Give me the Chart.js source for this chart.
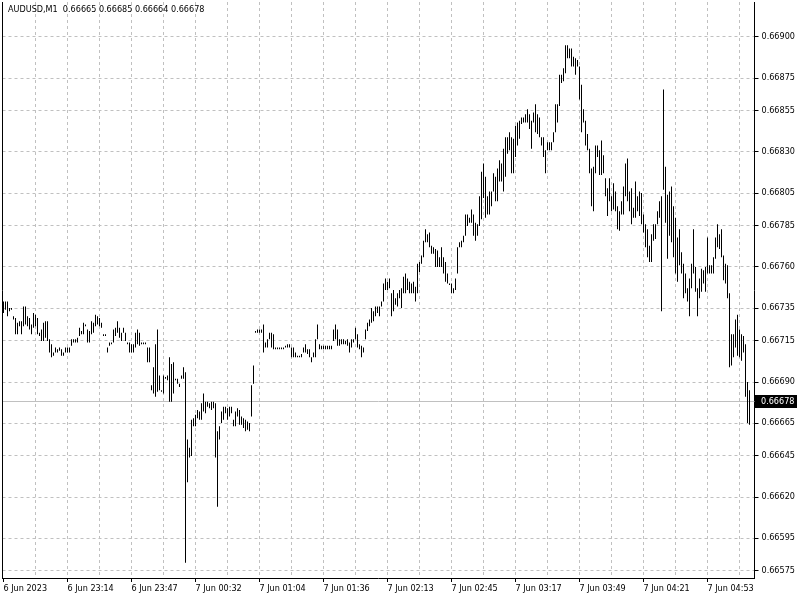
<!DOCTYPE html>
<html>
<head>
<meta charset="UTF-8">
<title>AUDUSD,M1</title>
<script src="https://cdn.jsdelivr.net/npm/chart.js"></script>
<style>
  html, body { margin: 0; padding: 0; background: #fff; }
  #wrap { width: 800px; height: 600px; }
</style>
</head>
<body>
<div id="wrap"><canvas id="chart" width="800" height="600"></canvas></div>
<script>
// header line of the chart window
const symbolTitle = 'AUDUSD,M1';
const lastOHLC = ['0.66665', '0.66685', '0.66664', '0.66678'];
const lastPrice = 0.66678;

// one label every 32 one-minute bars
const timeLabels = ['6 Jun 2023', '6 Jun 23:14', '6 Jun 23:47', '7 Jun 00:32', '7 Jun 01:04', '7 Jun 01:36',
  '7 Jun 02:13', '7 Jun 02:45', '7 Jun 03:17', '7 Jun 03:49', '7 Jun 04:21', '7 Jun 04:53'];

const priceTicks = [0.66900, 0.66875, 0.66855, 0.66830, 0.66805, 0.66785, 0.66760, 0.66735,
  0.66715, 0.66690, 0.66665, 0.66645, 0.66620, 0.66595, 0.66575];

// bar highs / lows
const highs = [
  0.66739, 0.66739, 0.66739, 0.66735, 0.66735, 0.66730, 0.66729, 0.66726, 0.66727, 0.66727,
  0.66736, 0.66736, 0.66730, 0.66729, 0.66725, 0.66732, 0.66731, 0.66729, 0.66720, 0.66722,
  0.66726, 0.66727, 0.66727, 0.66716, 0.66713, 0.66708, 0.66711, 0.66710, 0.66711, 0.66710,
  0.66708, 0.66711, 0.66711, 0.66711, 0.66716, 0.66716, 0.66716, 0.66717, 0.66723, 0.66721,
  0.66726, 0.66725, 0.66722, 0.66721, 0.66727, 0.66726, 0.66731, 0.66730, 0.66729, 0.66726,
  0.66719, 0.66719, 0.66711, 0.66714, 0.66714, 0.66722, 0.66723, 0.66727, 0.66723, 0.66720,
  0.66723, 0.66720, 0.66714, 0.66714, 0.66713, 0.66713, 0.66720, 0.66722, 0.66720, 0.66714,
  0.66714, 0.66714, 0.66711, 0.66711, 0.66688, 0.66699, 0.66713, 0.66722, 0.66694, 0.66685,
  0.66694, 0.66693, 0.66694, 0.66705, 0.66701, 0.66702, 0.66692, 0.66692, 0.66689, 0.66694,
  0.66699, 0.66696, 0.66655, 0.66650, 0.66667, 0.66668, 0.66670, 0.66673, 0.66672, 0.66677,
  0.66683, 0.66678, 0.66678, 0.66677, 0.66678, 0.66678, 0.66677, 0.66660, 0.66663, 0.66672,
  0.66675, 0.66675, 0.66674, 0.66675, 0.66675, 0.66667, 0.66672, 0.66674, 0.66673, 0.66669,
  0.66668, 0.66667, 0.66666, 0.66665, 0.66688, 0.66700, 0.66721, 0.66722, 0.66722, 0.66722,
  0.66725, 0.66714, 0.66716, 0.66720, 0.66720, 0.66719, 0.66711, 0.66711, 0.66711, 0.66711,
  0.66711, 0.66712, 0.66713, 0.66713, 0.66711, 0.66711, 0.66708, 0.66706, 0.66706, 0.66707,
  0.66711, 0.66713, 0.66710, 0.66710, 0.66705, 0.66708, 0.66716, 0.66725, 0.66713, 0.66712,
  0.66712, 0.66712, 0.66712, 0.66712, 0.66712, 0.66722, 0.66725, 0.66722, 0.66716, 0.66716,
  0.66716, 0.66715, 0.66716, 0.66714, 0.66716, 0.66716, 0.66723, 0.66719, 0.66713, 0.66712,
  0.66711, 0.66722, 0.66726, 0.66728, 0.66735, 0.66733, 0.66736, 0.66736, 0.66736, 0.66739,
  0.66750, 0.66753, 0.66751, 0.66753, 0.66744, 0.66746, 0.66741, 0.66744, 0.66746, 0.66747,
  0.66754, 0.66756, 0.66753, 0.66751, 0.66750, 0.66751, 0.66748, 0.66762, 0.66763, 0.66767,
  0.66776, 0.66783, 0.66780, 0.66781, 0.66773, 0.66772, 0.66771, 0.66770, 0.66766, 0.66772,
  0.66766, 0.66763, 0.66756, 0.66750, 0.66750, 0.66747, 0.66753, 0.66772, 0.66775, 0.66776,
  0.66779, 0.66792, 0.66792, 0.66790, 0.66795, 0.66792, 0.66787, 0.66786, 0.66803, 0.66818,
  0.66823, 0.66815, 0.66803, 0.66806, 0.66806, 0.66817, 0.66815, 0.66820, 0.66825, 0.66823,
  0.66832, 0.66839, 0.66839, 0.66842, 0.66839, 0.66838, 0.66846, 0.66848, 0.66849, 0.66851,
  0.66851, 0.66853, 0.66856, 0.66853, 0.66849, 0.66854, 0.66859, 0.66853, 0.66851, 0.66839,
  0.66839, 0.66831, 0.66836, 0.66836, 0.66836, 0.66842, 0.66859, 0.66859, 0.66877, 0.66877,
  0.66881, 0.66895, 0.66895, 0.66893, 0.66893, 0.66888, 0.66887, 0.66886, 0.66882, 0.66871,
  0.66856, 0.66849, 0.66841, 0.66832, 0.66820, 0.66821, 0.66834, 0.66834, 0.66831, 0.66837,
  0.66828, 0.66814, 0.66808, 0.66814, 0.66803, 0.66811, 0.66806, 0.66797, 0.66794, 0.66800,
  0.66809, 0.66823, 0.66826, 0.66806, 0.66808, 0.66796, 0.66812, 0.66803, 0.66806, 0.66805,
  0.66792, 0.66786, 0.66783, 0.66773, 0.66780, 0.66786, 0.66786, 0.66794, 0.66800, 0.66803,
  0.66868, 0.66821, 0.66804, 0.66806, 0.66809, 0.66797, 0.66790, 0.66778, 0.66783, 0.66769,
  0.66762, 0.66756, 0.66747, 0.66753, 0.66762, 0.66783, 0.66760, 0.66747, 0.66753, 0.66759,
  0.66758, 0.66760, 0.66778, 0.66761, 0.66761, 0.66766, 0.66778, 0.66786, 0.66780, 0.66783,
  0.66767, 0.66762, 0.66761, 0.66744, 0.66719, 0.66719, 0.66728, 0.66731, 0.66722, 0.66719,
  0.66718, 0.66713, 0.66690, 0.66685
];
const lows = [
  0.66732, 0.66734, 0.66730, 0.66733, 0.66734, 0.66728, 0.66719, 0.66719, 0.66724, 0.66719,
  0.66724, 0.66725, 0.66724, 0.66722, 0.66719, 0.66723, 0.66724, 0.66719, 0.66718, 0.66715,
  0.66715, 0.66717, 0.66715, 0.66708, 0.66705, 0.66706, 0.66708, 0.66708, 0.66709, 0.66706,
  0.66706, 0.66708, 0.66708, 0.66708, 0.66712, 0.66714, 0.66714, 0.66714, 0.66718, 0.66719,
  0.66719, 0.66724, 0.66714, 0.66714, 0.66719, 0.66720, 0.66724, 0.66725, 0.66724, 0.66723,
  0.66718, 0.66718, 0.66708, 0.66712, 0.66713, 0.66714, 0.66718, 0.66720, 0.66717, 0.66715,
  0.66720, 0.66715, 0.66713, 0.66708, 0.66708, 0.66708, 0.66711, 0.66713, 0.66712, 0.66713,
  0.66713, 0.66713, 0.66702, 0.66702, 0.66685, 0.66683, 0.66681, 0.66684, 0.66685, 0.66684,
  0.66683, 0.66692, 0.66691, 0.66678, 0.66678, 0.66683, 0.66691, 0.66689, 0.66687, 0.66692,
  0.66692, 0.66580, 0.66629, 0.66644, 0.66645, 0.66663, 0.66663, 0.66668, 0.66667, 0.66667,
  0.66672, 0.66671, 0.66675, 0.66674, 0.66673, 0.66674, 0.66644, 0.66614, 0.66655, 0.66665,
  0.66667, 0.66671, 0.66667, 0.66669, 0.66671, 0.66663, 0.66663, 0.66669, 0.66664, 0.66664,
  0.66662, 0.66660, 0.66661, 0.66660, 0.66669, 0.66689, 0.66720, 0.66720, 0.66720, 0.66720,
  0.66708, 0.66711, 0.66711, 0.66716, 0.66711, 0.66710, 0.66710, 0.66710, 0.66710, 0.66710,
  0.66710, 0.66711, 0.66711, 0.66711, 0.66705, 0.66705, 0.66705, 0.66705, 0.66705, 0.66705,
  0.66708, 0.66708, 0.66707, 0.66705, 0.66702, 0.66705, 0.66705, 0.66716, 0.66710, 0.66710,
  0.66710, 0.66710, 0.66710, 0.66710, 0.66710, 0.66715, 0.66716, 0.66712, 0.66712, 0.66713,
  0.66713, 0.66713, 0.66712, 0.66708, 0.66711, 0.66714, 0.66716, 0.66711, 0.66710, 0.66705,
  0.66708, 0.66716, 0.66721, 0.66724, 0.66726, 0.66727, 0.66730, 0.66732, 0.66730, 0.66736,
  0.66739, 0.66746, 0.66746, 0.66747, 0.66730, 0.66733, 0.66737, 0.66736, 0.66741, 0.66735,
  0.66744, 0.66744, 0.66746, 0.66744, 0.66744, 0.66744, 0.66739, 0.66744, 0.66757, 0.66762,
  0.66766, 0.66775, 0.66775, 0.66772, 0.66768, 0.66768, 0.66760, 0.66760, 0.66760, 0.66760,
  0.66756, 0.66751, 0.66750, 0.66749, 0.66744, 0.66744, 0.66746, 0.66756, 0.66772, 0.66772,
  0.66775, 0.66779, 0.66785, 0.66787, 0.66787, 0.66779, 0.66776, 0.66779, 0.66785, 0.66789,
  0.66802, 0.66790, 0.66792, 0.66792, 0.66797, 0.66806, 0.66800, 0.66800, 0.66812, 0.66812,
  0.66806, 0.66815, 0.66829, 0.66831, 0.66817, 0.66817, 0.66827, 0.66834, 0.66838, 0.66847,
  0.66848, 0.66848, 0.66848, 0.66844, 0.66832, 0.66848, 0.66842, 0.66841, 0.66839, 0.66834,
  0.66827, 0.66817, 0.66831, 0.66831, 0.66831, 0.66836, 0.66842, 0.66848, 0.66858, 0.66872,
  0.66873, 0.66878, 0.66887, 0.66887, 0.66882, 0.66882, 0.66877, 0.66882, 0.66862, 0.66842,
  0.66848, 0.66834, 0.66831, 0.66817, 0.66797, 0.66794, 0.66817, 0.66827, 0.66816, 0.66816,
  0.66817, 0.66803, 0.66791, 0.66800, 0.66794, 0.66795, 0.66794, 0.66783, 0.66782, 0.66792,
  0.66792, 0.66803, 0.66800, 0.66794, 0.66786, 0.66790, 0.66790, 0.66794, 0.66791, 0.66786,
  0.66781, 0.66772, 0.66766, 0.66763, 0.66763, 0.66776, 0.66777, 0.66786, 0.66790, 0.66733,
  0.66807, 0.66787, 0.66765, 0.66779, 0.66775, 0.66766, 0.66756, 0.66751, 0.66761, 0.66756,
  0.66741, 0.66744, 0.66739, 0.66730, 0.66747, 0.66756, 0.66745, 0.66730, 0.66741, 0.66745,
  0.66750, 0.66745, 0.66756, 0.66756, 0.66756, 0.66756, 0.66765, 0.66772, 0.66771, 0.66766,
  0.66752, 0.66750, 0.66741, 0.66699, 0.66700, 0.66705, 0.66711, 0.66706, 0.66705, 0.66703,
  0.66708, 0.66681, 0.66665, 0.66664
];

const FONT = { family: '"DejaVu Sans Condensed", "DejaVu Sans", sans-serif', size: 9 };
const GRID = '#c0c0c0';

// category per minute bar, two empty slots keep the right margin
const categories = [];
for (let i = 0; i < highs.length + 2; i++) {
  categories.push(i % 32 === 0 && timeLabels[i / 32] ? timeLabels[i / 32] : '');
}
const bars = highs.map((h, i) => [lows[i], h]);

// MT4 style frame, current price line, header text
const mtOverlay = {
  id: 'mtOverlay',
  beforeDatasetsDraw(chart) {
    const { ctx, chartArea, scales } = chart;
    const y = Math.round(scales.y.getPixelForValue(lastPrice) - 0.5) + 0.5;
    ctx.save();
    ctx.strokeStyle = GRID;
    ctx.lineWidth = 1;
    ctx.beginPath();
    ctx.moveTo(chartArea.left, y);
    ctx.lineTo(chartArea.right, y);
    ctx.stroke();
    ctx.restore();
  },
  afterDraw(chart) {
    const { ctx, chartArea, scales } = chart;
    ctx.save();
    // left edge of the frame
    ctx.strokeStyle = '#000';
    ctx.lineWidth = 1;
    ctx.beginPath();
    ctx.moveTo(2.5, chartArea.top);
    ctx.lineTo(2.5, chartArea.bottom + 0.5);
    ctx.stroke();

    ctx.font = `${FONT.size}px ${FONT.family}`;
    ctx.textBaseline = 'middle';
    ctx.fillStyle = '#000';
    ctx.fillText(symbolTitle + '  ' + lastOHLC.join(' '), 8, 10);

    // last price tag on the axis
    const y = Math.round(scales.y.getPixelForValue(lastPrice) - 0.5) + 0.5;
    ctx.fillRect(755, y - 6.5, 42, 13);
    ctx.fillStyle = '#fff';
    ctx.fillText(lastPrice.toFixed(5), 761, y + 0.5);
    ctx.restore();
  }
};

new Chart(document.getElementById('chart'), {
  type: 'bar',
  data: {
    labels: categories,
    datasets: [{
      data: bars,
      backgroundColor: '#000',
      borderWidth: 0,
      inflateAmount: 0,
      barThickness: 1
    }]
  },
  options: {
    responsive: false,
    animation: false,
    layout: { padding: { left: 2.5, top: 2, right: 0, bottom: 0 } },
    plugins: { legend: { display: false }, tooltip: { enabled: false } },
    scales: {
      x: {
        offset: true,
        grid: {
          offset: false,
          color: c => (c.index > 0 && c.index % 16 === 0 && c.index < highs.length) ? GRID : 'rgba(0,0,0,0)',
          tickColor: c => categories[c.index] ? '#000' : 'rgba(0,0,0,0)',
          tickLength: 4
        },
        border: { color: '#000', dash: [3, 3] },
        ticks: {
          autoSkip: false, maxRotation: 0, minRotation: 0,
          align: 'start', padding: 1, color: '#000', font: FONT
        },
        afterFit(scale) {
          scale.height = 22;
          scale.paddingLeft = 0;
          scale.paddingRight = 0;
        }
      },
      y: {
        position: 'right',
        min: 0.665707,
        max: 0.669213,
        grid: { color: GRID, tickColor: '#000', tickLength: 4 },
        border: { color: '#000', dash: [3, 3] },
        ticks: {
          color: '#000', font: FONT, padding: 3,
          callback: v => v.toFixed(5)
        },
        afterBuildTicks(axis) {
          axis.ticks = priceTicks.slice().sort((a, b) => a - b).map(v => ({ value: v }));
        },
        afterFit(scale) {
          scale.width = 45.5;
          scale.paddingTop = 0;
          scale.paddingBottom = 0;
        }
      }
    }
  },
  plugins: [mtOverlay]
});
</script>
</body>
</html>
